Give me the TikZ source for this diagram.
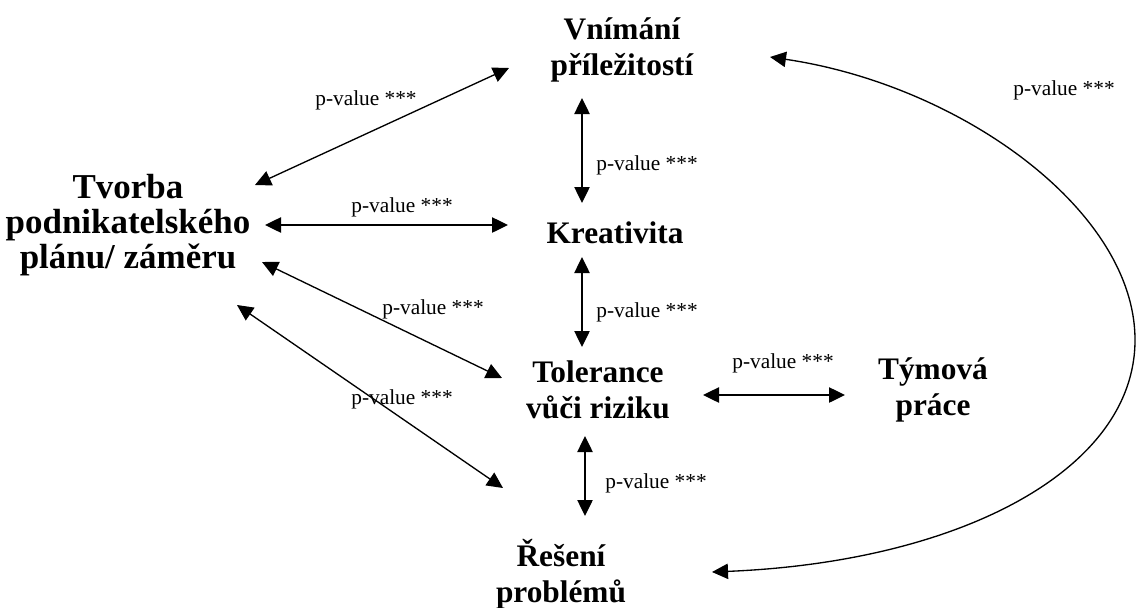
\documentclass[tikz,border=0pt]{standalone}
\usepackage{fontspec}
\setmainfont{Liberation Serif}
\usetikzlibrary{arrows.meta}
\begin{document}
\begin{tikzpicture}[x=0.75pt,y=-0.75pt,
  concept/.style={font=\fontsize{23.5}{27}\selectfont\bfseries, align=center, inner sep=0pt},
  bigconcept/.style={concept, font=\fontsize{26.2}{26.5}\selectfont\bfseries},
  pval/.style={font=\fontsize{16}{18}\selectfont, inner sep=0pt},
  link/.style={line width=1pt, {Triangle[length=12pt,width=11.5pt]}-{Triangle[length=12pt,width=11.5pt]}}
]
\useasboundingbox (0,0) rectangle (1137,607);
% concepts
\node[concept] (vn) at (622,50) {Vnímání\\příležitostí};
\node[bigconcept] (tv) at (128,225) {Tvorba\\podnikatelského\\plánu/ záměru};
\node[concept] (kr) at (615,233) {Kreativita};
\node[concept] (to) at (598,390) {Tolerance\\vůči riziku};
\node[concept] (ty) at (933,390) {Týmová\\práce};
\node[concept] (re) at (561,574) {Řešení\\problémů};
% endpoints
\coordinate (a1) at (255,185); \coordinate (b1) at (509,68);
\coordinate (a2) at (265,225); \coordinate (b2) at (508,225);
\coordinate (a3) at (262,262); \coordinate (b3) at (502,378);
\coordinate (a4) at (237,305); \coordinate (b4) at (503,488);
\coordinate (a5) at (582,98);  \coordinate (b5) at (582,203);
\coordinate (a6) at (582,257); \coordinate (b6) at (582,347);
\coordinate (a7) at (703,395); \coordinate (b7) at (845,395);
\coordinate (a8) at (585,436); \coordinate (b8) at (585,516);
\coordinate (c1) at (770,57);  \coordinate (c2) at (712,572);
\coordinate (cm) at (1135,340);
% connectors
\draw[link] (a1) -- (b1);
\draw[link] (a2) -- (b2);
\draw[link] (a3) -- (b3);
\draw[link] (a4) -- (b4);
\draw[link] (a5) -- (b5);
\draw[link] (a6) -- (b6);
\draw[link] (a7) -- (b7);
\draw[link] (a8) -- (b8);
\draw[link]
  (c1) .. controls (960,85) and (1135,210) .. (cm)
       .. controls (1135,470) and (960,562) .. (c2);
% labels
\node[pval] (l1) at (366,100) {p-value ***};
\node[pval] (l2) at (402,207) {p-value ***};
\node[pval] (l3) at (433,309) {p-value ***};
\node[pval] (l4) at (402,399) {p-value ***};
\node[pval] (l5) at (647,165) {p-value ***};
\node[pval] (l6) at (647,312) {p-value ***};
\node[pval] (l7) at (783,363) {p-value ***};
\node[pval] (l8) at (656,483) {p-value ***};
\node[pval] (l9) at (1064,90) {p-value ***};
\end{tikzpicture}
\end{document}
